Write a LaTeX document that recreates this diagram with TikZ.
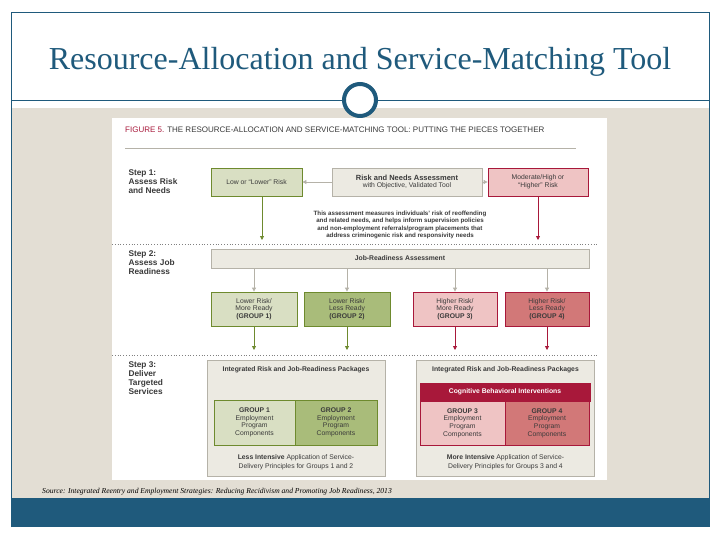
\documentclass[tikz,border=0pt]{standalone}
\usepackage{fontspec}
\setmainfont{Liberation Sans}
\newfontfamily\titlefont{Liberation Serif}
\usetikzlibrary{arrows.meta}
\definecolor{navy}{HTML}{1F5A7C}
\definecolor{beige}{HTML}{E3DED4}
\definecolor{gfill}{HTML}{D9DFC3}
\definecolor{gfilld}{HTML}{A9BC7A}
\definecolor{gdraw}{HTML}{6E8A2E}
\definecolor{rfill}{HTML}{EFC4C4}
\definecolor{rfilld}{HTML}{D27878}
\definecolor{rdraw}{HTML}{A8183A}
\definecolor{grayfill}{HTML}{ECEAE2}
\definecolor{graydraw}{HTML}{B5B2A8}
\definecolor{txt}{HTML}{3A3A3A}
\tikzset{
  box/.style={draw, line width=0.8pt, align=center, inner sep=1pt, font=\fontsize{6.8}{7.6}\selectfont, text=txt},
  gbox/.style={box, fill=gfill, draw=gdraw},
  gboxd/.style={box, fill=gfilld, draw=gdraw},
  rbox/.style={box, fill=rfill, draw=rdraw},
  rboxd/.style={box, fill=rfilld, draw=rdraw},
  nbox/.style={box, fill=grayfill, draw=graydraw},
  steplabel/.style={anchor=north west, align=left, font=\bfseries\fontsize{8.3}{9.2}\selectfont, text=txt},
  garr/.style={-{Triangle[length=4pt,width=4pt]}, gdraw, line width=0.8pt},
  rarr/.style={-{Triangle[length=4pt,width=4pt]}, rdraw, line width=0.8pt},
  narr/.style={-{Triangle[length=4pt,width=4pt]}, graydraw, line width=0.8pt},
  dots/.style={dotted, line width=0.8pt, gray},
}
\begin{document}
\begin{tikzpicture}[x=1pt,y=-1pt]
\useasboundingbox (0,0) rectangle (720,540);
\fill[white] (0,0) rectangle (720,540);
% slide frame
\fill[beige] (11,108) rectangle (709,498);
\fill[navy] (11,498) rectangle (709,527);
\draw[navy, line width=0.7pt] (11,527) -- (11,12) -- (709,12) -- (709,527);
\node[font=\titlefont\fontsize{32}{34}\selectfont, text=navy] (title) at (360,62) {Resource-Allocation and Service-Matching Tool};
\draw[navy, line width=0.7pt] (11,100) -- (709,100);
\draw[navy, line width=4pt, fill=white] (360,100) circle (16);
% figure panel
\fill[white] (112,118) rectangle (607,480);
\node[anchor=west, font=\fontsize{8}{9}\selectfont, text=txt, inner sep=0pt] (ftitle) at (125,130) {\textcolor{rdraw}{FIGURE 5.} THE RESOURCE-ALLOCATION AND SERVICE-MATCHING TOOL: PUTTING THE PIECES TOGETHER};
\draw[graydraw, line width=0.6pt] (125,148) -- (576,148);
% step 1
\node[steplabel] (s1) at (125,166) {Step 1:\\Assess Risk\\and Needs};
\node[gbox, minimum width=91pt, minimum height=28pt] (low) at (256.5,182) {Low or ``Lower'' Risk};
\node[nbox, minimum width=150pt, minimum height=28pt] (rna) at (407,182) {\bfseries\fontsize{7.5}{8.5}\selectfont Risk and Needs Assessment\\with Objective, Validated Tool};
\node[rbox, minimum width=100pt, minimum height=28pt] (high) at (538,182) {Moderate/High or\\``Higher'' Risk};
\draw[narr] (rna) -- (low);
\draw[narr] (rna) -- (high);
\node[align=center, font=\bfseries\fontsize{6.2}{7.5}\selectfont, text=txt] (para) at (400,225) {This assessment measures individuals' risk of reoffending\\and related needs, and helps inform supervision policies\\and non-employment referrals/program placements that\\address criminogenic risk and responsivity needs};
\coordinate (lowend) at (262,240);
\coordinate (highend) at (538,240);
\draw[garr] (low.south -| lowend) -- (lowend);
\draw[rarr] (high.south) -- (highend);
\draw[dots] (112,244) -- (597,244);
% step 2
\node[steplabel] (s2) at (125,247) {Step 2:\\Assess Job\\Readiness};
\node[nbox, minimum width=378pt, minimum height=19pt] (jra) at (400,258.5) {\bfseries Job-Readiness Assessment};
\node[gbox, minimum width=86pt, minimum height=34pt] (g1) at (254,309) {Lower Risk/\\More Ready\\\bfseries(GROUP 1)};
\node[gboxd, minimum width=86pt, minimum height=34pt] (g2) at (347,309) {Lower Risk/\\Less Ready\\\bfseries(GROUP 2)};
\node[rbox, minimum width=84pt, minimum height=34pt] (g3) at (455,309) {Higher Risk/\\More Ready\\\bfseries(GROUP 3)};
\node[rboxd, minimum width=84pt, minimum height=34pt] (g4) at (547,309) {Higher Risk/\\Less Ready\\\bfseries(GROUP 4)};
\foreach \g in {g1,g2,g3,g4} \draw[narr] (jra.south -| \g) -- (\g);
\coordinate (e1) at (254,350); \coordinate (e2) at (347,350);
\coordinate (e3) at (455,350); \coordinate (e4) at (547,350);
\draw[garr] (g1) -- (e1); \draw[garr] (g2) -- (e2);
\draw[rarr] (g3) -- (e3); \draw[rarr] (g4) -- (e4);
\draw[dots] (112,355) -- (597,355);
% step 3
\node[steplabel] (s3) at (125,358) {Step 3:\\Deliver\\Targeted\\Services};
\node[nbox, minimum width=178pt, minimum height=116pt] (pl) at (296,418) {};
\node[nbox, minimum width=178pt, minimum height=116pt] (pr) at (505.5,418) {};
\node[font=\bfseries\fontsize{6.8}{7.6}\selectfont, text=txt] (plh) at (296,370) {Integrated Risk and Job-Readiness Packages};
\node[font=\bfseries\fontsize{6.8}{7.6}\selectfont, text=txt] (prh) at (505.5,370) {Integrated Risk and Job-Readiness Packages};
\node[gbox, minimum width=81pt, minimum height=45pt] (p1) at (254.5,422.5) {\bfseries GROUP 1\\Employment\\Program\\Components};
\node[gboxd, minimum width=82pt, minimum height=45pt] (p2) at (336,422.5) {\bfseries GROUP 2\\Employment\\Program\\Components};
\node[box, fill=rdraw, draw=rdraw, text=white, minimum width=170pt, minimum height=18pt] (cbi) at (505,392) {\bfseries Cognitive Behavioral Interventions};
\node[rbox, minimum width=85pt, minimum height=44pt] (p3) at (462.5,423) {\bfseries GROUP 3\\Employment\\Program\\Components};
\node[rboxd, minimum width=84pt, minimum height=44pt] (p4) at (547,423) {\bfseries GROUP 4\\Employment\\Program\\Components};
\node[align=center, font=\fontsize{6.8}{9}\selectfont, text=txt] (bl) at (296,462) {\textbf{Less Intensive} Application of Service-\\Delivery Principles for Groups 1 and 2};
\node[align=center, font=\fontsize{6.8}{9}\selectfont, text=txt] (br) at (505.5,462) {\textbf{More Intensive} Application of Service-\\Delivery Principles for Groups 3 and 4};
% source
\node[anchor=west, font=\titlefont\itshape\fontsize{7.6}{8.5}\selectfont, text=black, inner sep=0pt] (src) at (42,492) {Source: Integrated Reentry and Employment Strategies: Reducing Recidivism and Promoting Job Readiness, 2013};
\end{tikzpicture}
\end{document}
